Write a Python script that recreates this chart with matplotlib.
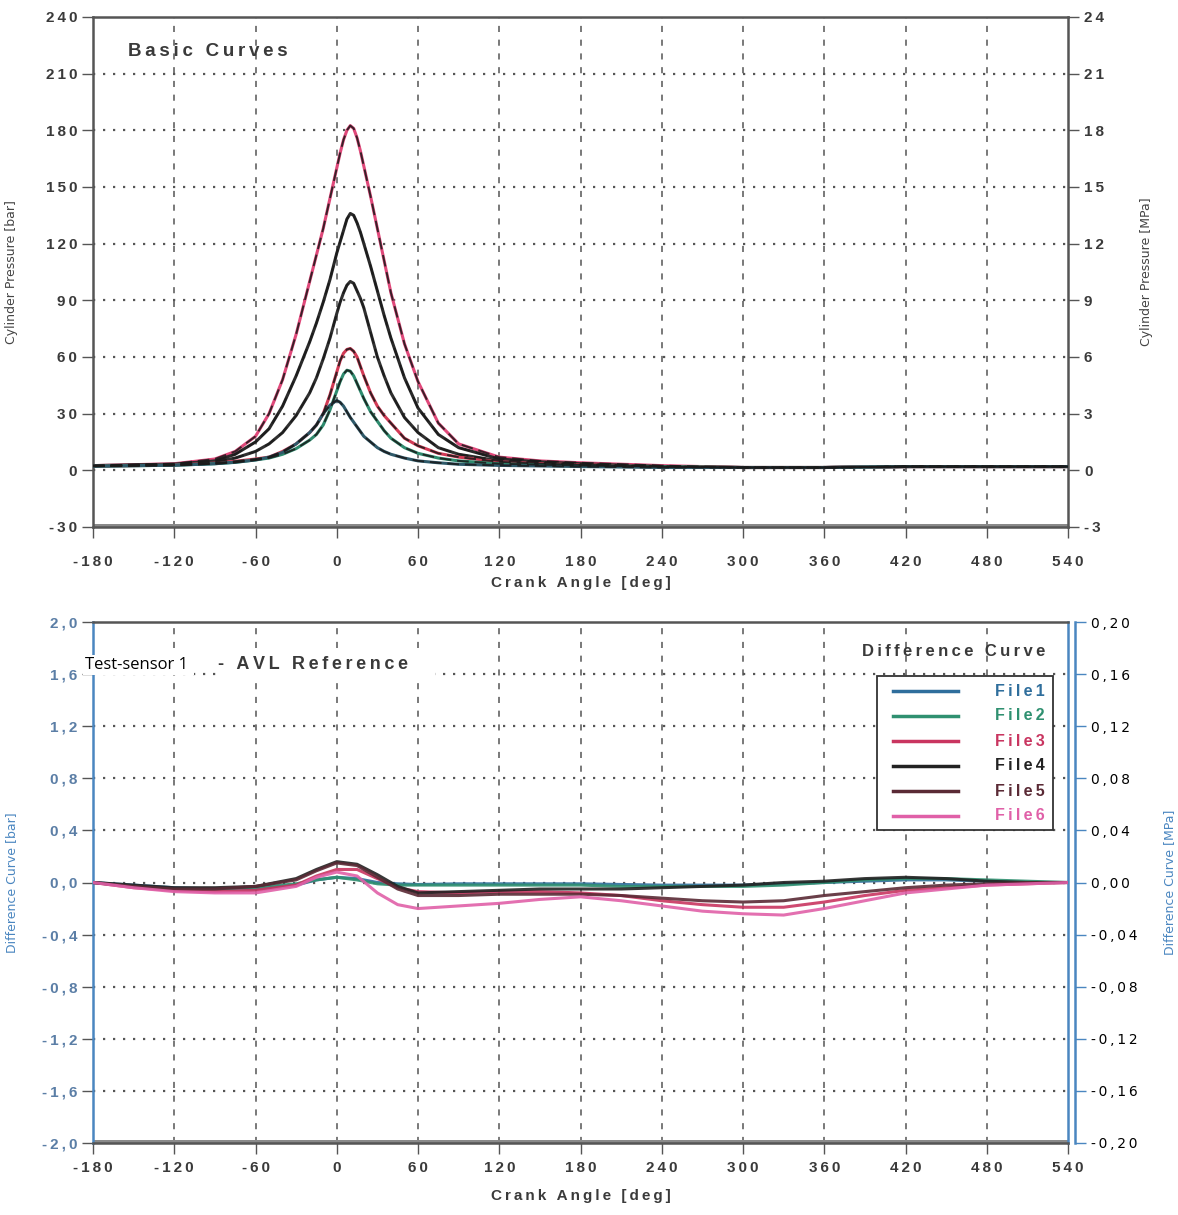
import matplotlib.pyplot as plt
from matplotlib.lines import Line2D
from matplotlib.patches import Rectangle

W, H = 1178, 1215

# ---- top chart: cylinder pressure [bar] ----
angle_top = [-180, -120, -90, -75, -60, -50, -40, -30, -20, -15, -10, -5, 0, 2.5, 5, 7.5,
             10, 12.5, 15, 17.5, 20, 25, 30, 35, 40, 50, 60, 75, 90, 120, 150, 180,
             240, 300, 360, 420, 480, 540]
p_pink = [2.5, 3.5, 6, 10, 18, 30, 48, 72, 100, 114, 128, 144, 160, 168, 175, 180,
          182.5, 181, 176, 169, 161, 145, 128, 111, 94, 67, 47, 25, 14, 7, 5, 4,
          2.5, 1.5, 1.5, 2, 2, 2]
p_black1 = [2.5, 3.3, 5, 8.5, 15, 22, 34, 50, 68, 78, 89, 101, 115, 121, 127, 133,
            136, 135, 131, 126, 120, 108, 95, 82, 70, 49, 33, 19, 12, 6, 4.5, 3.5,
            2, 1.5, 1.5, 2, 2, 2]
p_black2 = [2.3, 3, 4.5, 6.5, 10, 14, 20, 29, 41, 49, 59, 70, 83, 89, 94, 98,
            100, 99, 95, 91, 86, 73, 60, 50, 41, 28, 20, 12, 8.5, 5, 4, 3,
            2, 1.5, 1.5, 2, 2, 2]
p_red = [2.2, 2.8, 3.8, 4.8, 6, 7, 10, 14, 20, 24, 30, 40, 52, 58, 62, 64,
         64.5, 63, 60, 55, 50, 41, 34, 29, 25, 17, 13, 9, 7, 4.5, 3.5, 3,
         2, 1.5, 1.5, 2, 2, 2]
p_green = [2.2, 2.7, 3.5, 4.2, 5.5, 6.5, 8.5, 11.5, 16, 19, 24, 32, 42, 47, 51, 53,
           52.5, 50, 46, 42, 38, 31, 26, 21, 17, 12, 9, 6.5, 5, 3.5, 3, 2.5,
           2, 1.5, 1.5, 2, 2, 2]
p_blue = [2.2, 2.7, 3.5, 4.3, 5.5, 7, 9.5, 14, 20, 24, 30, 34.5, 37, 36, 34, 31,
          28, 25.5, 23, 20.5, 18, 15, 12, 10, 8.5, 6.5, 5, 4, 3.2, 2.6, 2.3, 2,
          1.5, 1.5, 1.5, 2, 2, 2]
top_series = [p_pink, p_black1, p_black2, p_red, p_green, p_blue]
top_colors = ['#e0487a', '#2a2a2a', '#303030', '#d23a55', '#2e8b6e', '#2f5a6a']

# ---- bottom chart: difference curves [bar] ----
angle_bot = [-180, -150, -120, -90, -60, -30, -15, 0, 15, 30, 45, 60, 90, 120, 150,
             180, 210, 240, 270, 300, 330, 360, 390, 420, 450, 480, 510, 540]
d_file1 = [0, -0.02, -0.04, -0.05, -0.05, -0.02, 0.02, 0.04, 0.03, 0.0, -0.01, -0.015, -0.01, -0.01,
           -0.01, -0.01, -0.015, -0.02, -0.02, -0.02, -0.01, 0.0, 0.01, 0.02, 0.02, 0.01, 0.0, 0.0]
d_file2 = [0, -0.03, -0.05, -0.05, -0.04, -0.01, 0.02, 0.04, 0.02, -0.01, -0.02, -0.02, -0.02, -0.02,
           -0.02, -0.02, -0.03, -0.03, -0.03, -0.03, -0.02, 0.0, 0.02, 0.03, 0.03, 0.02, 0.01, 0.0]
d_file3 = [0, -0.04, -0.06, -0.07, -0.06, -0.02, 0.05, 0.1, 0.1, 0.03, -0.04, -0.07, -0.08, -0.07,
           -0.07, -0.08, -0.1, -0.14, -0.17, -0.19, -0.19, -0.15, -0.1, -0.06, -0.04, -0.02, -0.01, 0.0]
d_file4 = [0, -0.02, -0.04, -0.04, -0.03, 0.03, 0.1, 0.16, 0.14, 0.06, -0.03, -0.08, -0.07, -0.06,
           -0.05, -0.05, -0.05, -0.04, -0.03, -0.02, 0.0, 0.01, 0.03, 0.04, 0.03, 0.01, 0.0, 0.0]
d_file5 = [0, -0.03, -0.05, -0.05, -0.03, 0.02, 0.09, 0.15, 0.13, 0.04, -0.05, -0.1, -0.1, -0.09,
           -0.09, -0.09, -0.1, -0.12, -0.14, -0.15, -0.14, -0.1, -0.07, -0.04, -0.02, -0.01, 0.0, 0.0]
d_file6 = [0, -0.04, -0.07, -0.08, -0.08, -0.03, 0.04, 0.08, 0.05, -0.08, -0.17, -0.2, -0.18, -0.16,
           -0.13, -0.11, -0.14, -0.18, -0.22, -0.24, -0.25, -0.2, -0.14, -0.08, -0.05, -0.02, -0.01, 0.0]
bot_series = [d_file1, d_file2, d_file3, d_file4, d_file5, d_file6]
bot_labels = ['File1', 'File2', 'File3', 'File4', 'File5', 'File6']
bot_colors = ['#2f6e9c', '#2f9070', '#c93560', '#222222', '#5a2a35', '#e060a8']

x_ticks = [-180, -120, -60, 0, 60, 120, 180, 240, 300, 360, 420, 480, 540]
top_yticks = [-30, 0, 30, 60, 90, 120, 150, 180, 210, 240]
bot_yticks = [-2.0, -1.6, -1.2, -0.8, -0.4, 0.0, 0.4, 0.8, 1.2, 1.6, 2.0]

FONT = ['Liberation Sans', 'DejaVu Sans']
TXT = '#3a3a3a'
BLUE = '#4a86c0'


def sp(s, n=1):
    return ('\u2009' * n).join(s)


def fx(px):
    return px / W


def fy(py):
    return 1 - py / H


def style_axes(ax, ytick_lbls, spine_color='#555555', lab_color=TXT):
    ax.set_xlim(-180, 540)
    ax.set_xticks(x_ticks)
    ax.set_xticklabels([sp(str(v)) for v in x_ticks], fontfamily=FONT,
                       fontweight='bold', fontsize=11, color=TXT)
    ax.set_yticklabels(ytick_lbls, fontfamily=FONT, fontweight='bold',
                       fontsize=11, color=lab_color)
    ax.tick_params(direction='out', length=8, width=1, color='#555555')
    for s in ax.spines.values():
        s.set_linewidth(1.8)
        s.set_color('#555555')
    ax.spines['left'].set_color(spine_color)
    ax.spines['right'].set_color(spine_color)
    for v in x_ticks[1:-1]:
        ax.axvline(v, color='#555555', lw=1.1, ls=(0, (4, 5)), zorder=1)


fig = plt.figure(figsize=(W / 100, H / 100), dpi=100)

# ---------------- top ----------------
ax1 = fig.add_axes([fx(93), fy(527), 975 / W, 510 / H])
ax1.set_ylim(-30, 240)
ax1.set_yticks(top_yticks)
style_axes(ax1, [sp(str(v)) for v in top_yticks])
ax1.tick_params(axis='x', pad=12)
for v in top_yticks[1:-1]:
    ax1.axhline(v, color='#555555', lw=1.6, ls=(0, (1, 3.5)), zorder=1)
ax1.axhspan(-30, -28.6, color='#8a8a8a', lw=0, zorder=2)
for vals, c in zip(top_series, top_colors):
    ax1.plot(angle_top, vals, color=c, lw=2.2, zorder=3)
    ax1.plot(angle_top, vals, color='#1a1a1a', lw=1.4, ls=(0, (6, 3)), alpha=0.85, zorder=4)
ax1.text(-154, 222, sp('Basic Curves'), fontfamily=FONT, fontweight='bold',
         fontsize=13.5, color=TXT, va='center', ha='left')
ax1.set_xlabel(sp('Crank Angle [deg]'), fontfamily=FONT, fontweight='bold',
               fontsize=11, color=TXT, labelpad=5)
ax1.set_ylabel('Cylinder Pressure [bar]', fontsize=9, color='#444444')
ax1.yaxis.set_label_coords(-0.077, 0.5)

ax1r = ax1.twinx()
ax1r.set_ylim(-3, 24)
r_ticks = [v / 10 for v in top_yticks]
ax1r.set_yticks(r_ticks)
ax1r.set_yticklabels([sp(str(int(v))) for v in r_ticks], fontfamily=FONT,
                     fontweight='bold', fontsize=11, color=TXT)
ax1r.tick_params(direction='out', length=8, width=1, color='#555555')
for s in ax1r.spines.values():
    s.set_visible(False)
ax1r.set_ylabel('Cylinder Pressure [MPa]', fontsize=9, color='#444444')
ax1r.yaxis.set_label_coords(1.074, 0.5)

# ---------------- bottom ----------------
ax2 = fig.add_axes([fx(93), fy(1143), 975 / W, 521 / H])
ax2.set_ylim(-2.0, 2.0)
ax2.set_yticks(bot_yticks)
style_axes(ax2, [sp(f'{v:.1f}'.replace('.', ',')) for v in bot_yticks],
           spine_color=BLUE, lab_color='#5b7ea6')
ax2.tick_params(axis='x', pad=5)
for v in bot_yticks[1:-1]:
    ax2.axhline(v, color='#555555', lw=1.6, ls=(0, (1, 3.5)), zorder=1)
ax2.axhspan(-2.0, -1.98, color='#8a8a8a', lw=0, zorder=2)
for vals, c in zip(bot_series, bot_colors):
    ax2.plot(angle_bot, vals, color=c, lw=2.2, alpha=0.9, zorder=3)
ax2.set_xlabel(sp('Crank Angle [deg]'), fontfamily=FONT, fontweight='bold',
               fontsize=11, color=TXT, labelpad=10)
ax2.set_ylabel('Difference Curve [bar]', fontsize=9, color=BLUE)
ax2.yaxis.set_label_coords(-0.077, 0.5)

ax2r = ax2.twinx()
ax2r.set_ylim(-0.2, 0.2)
r2_ticks = [v / 10 for v in bot_yticks]
ax2r.set_yticks(r2_ticks)
ax2r.set_yticklabels([sp(f'{v:.2f}'.replace('.', ',')) for v in r2_ticks],
                     fontfamily=FONT, fontweight='bold', fontsize=11, color='#5b7ea6')
ax2r.tick_params(direction='out', length=8, width=1, color=BLUE)
for s in ax2r.spines.values():
    s.set_visible(False)
ax2r.spines['right'].set_visible(True)
ax2r.spines['right'].set_color(BLUE)
ax2r.spines['right'].set_linewidth(1.8)
ax2r.spines['right'].set_position(('outward', 5))
ax2r.set_ylabel('Difference Curve [MPa]', fontsize=9, color=BLUE)
ax2r.yaxis.set_label_coords(1.097, 0.5)

# titles in the bottom chart
fig.text(fx(85), fy(665), 'Test-sensor 1 ', fontfamily=['Open Sans', 'DejaVu Sans'],
         fontsize=12, color='black', va='center', ha='left',
         bbox=dict(facecolor='white', edgecolor='none', pad=1.5))
fig.text(fx(218), fy(665), sp('- AVL Reference') + '     ', fontfamily=FONT,
         fontweight='bold', fontsize=13, color=TXT, va='center', ha='left',
         bbox=dict(facecolor='white', edgecolor='none', pad=1.5))
fig.text(fx(1045), fy(651), sp('Difference Curve'), fontfamily=FONT,
         fontweight='bold', fontsize=12, color=TXT, va='center', ha='right')

# legend box
fig.patches.append(Rectangle((fx(877), fy(830)), 176 / W, 154 / H,
                             transform=fig.transFigure, facecolor='white',
                             edgecolor='#333333', lw=1.3, zorder=5))
for i, (lab, c) in enumerate(zip(bot_labels, bot_colors)):
    yy = fy(691 + 25 * i)
    fig.lines.append(Line2D([fx(893), fx(958)], [yy, yy], transform=fig.transFigure,
                            color=c, lw=2.5, zorder=6))
    fig.text(fx(1045), yy, sp(lab), fontfamily=FONT, fontweight='bold',
             fontsize=11.5, color=c, va='center', ha='right', zorder=6)

fig.savefig('out.png', dpi=100)
